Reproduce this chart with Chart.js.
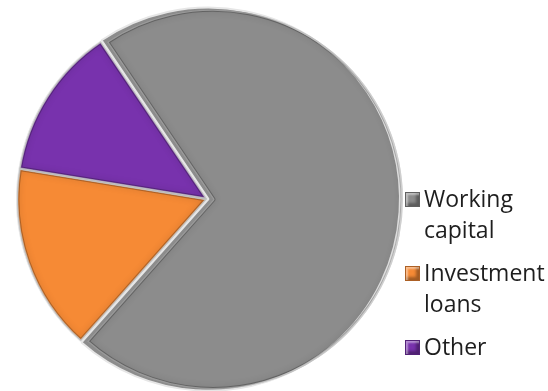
<!DOCTYPE html>
<html>
<head>
<meta charset="utf-8">
<script src="https://cdn.jsdelivr.net/npm/chart.js@4/dist/chart.umd.min.js"></script>
<style>
  body { margin: 0; background: #fff; width: 548px; height: 391px; overflow: hidden; position: relative; }
  #wrap { position: absolute; left: 0; top: 0; width: 414px; height: 398px; }
  #legend { position: absolute; left: 405px; top: 0; font-family: "Open Sans", Lato, sans-serif; font-size: 23px; color: #1e1e1e; }
  .item { position: absolute; left: 0; white-space: nowrap; line-height: 31px; }
  .box { position: absolute; left: 0; top: 9px; width: 15px; height: 15px; box-sizing: border-box; border: 1px solid rgba(0,0,0,0.3); box-shadow: inset 2px 2px 2px rgba(255,255,255,0.45), inset -3px -3px 3px rgba(0,0,0,0.35); }
  .txt { position: absolute; left: 19px; top: 0; }
</style>
</head>
<body>
<div id="wrap"><canvas id="pie_chart"></canvas></div>
<div id="legend"></div>
<script>
const labels = ["Working capital", "Investment loans", "Other"];
const legendLines = [["Working", "capital"], ["Investment", "loans"], ["Other"]];
const shares = [71, 16, 13];
const colors = ["#8c8c8c", "#f68a35", "#7832ad"];

// soft inner edge on each slice, gives the bevelled look
const bevel = {
    id: "bevel",
    afterDatasetsDraw(chart) {
        const ctx = chart.ctx;
        chart.getDatasetMeta(0).data.forEach(arc => {
            const p = arc.getProps(["x", "y", "startAngle", "endAngle", "outerRadius"]);
            const mid = (p.startAngle + p.endAngle) / 2;
            const off = arc.options.offset || 0;
            const cx = p.x + Math.cos(mid) * off;
            const cy = p.y + Math.sin(mid) * off;
            ctx.save();
            ctx.beginPath();
            ctx.moveTo(cx, cy);
            ctx.arc(cx, cy, p.outerRadius, p.startAngle, p.endAngle);
            ctx.closePath();
            ctx.clip();
            ctx.lineJoin = "round";
            ctx.shadowColor = "rgba(0,0,0,0.45)";
            ctx.shadowBlur = 7;
            ctx.strokeStyle = "rgba(0,0,0,0.25)";
            ctx.lineWidth = 5;
            ctx.stroke();
            ctx.shadowBlur = 0;
            ctx.strokeStyle = "rgba(255,255,255,0.35)";
            ctx.lineWidth = 3;
            ctx.stroke();
            ctx.restore();
        });
    }
};

const pie_ctx = document.getElementById("pie_chart");
new Chart(pie_ctx, {
    type: "pie",
    data: {
        labels: labels,
        datasets: [{
            data: shares,
            backgroundColor: colors,
            borderColor: "#e6e6e6",
            borderWidth: 2,
            offset: [6, 0, 0],
            radius: 190,
            rotation: -34
        }]
    },
    options: {
        responsive: true,
        maintainAspectRatio: false,
        animation: false,
        layout: { padding: 0 },
        plugins: {
            legend: { display: false },
            tooltip: { enabled: false }
        }
    },
    plugins: [bevel]
});

// legend on the right, two-line labels
const tops = [183, 257, 331];
const legend = document.getElementById("legend");
legendLines.forEach((lines, i) => {
    const item = document.createElement("div");
    item.className = "item";
    item.style.top = tops[i] + "px";
    const box = document.createElement("div");
    box.className = "box";
    box.style.background = colors[i];
    const txt = document.createElement("div");
    txt.className = "txt";
    txt.innerHTML = lines.join("<br>");
    item.appendChild(box);
    item.appendChild(txt);
    legend.appendChild(item);
});
</script>
</body>
</html>
